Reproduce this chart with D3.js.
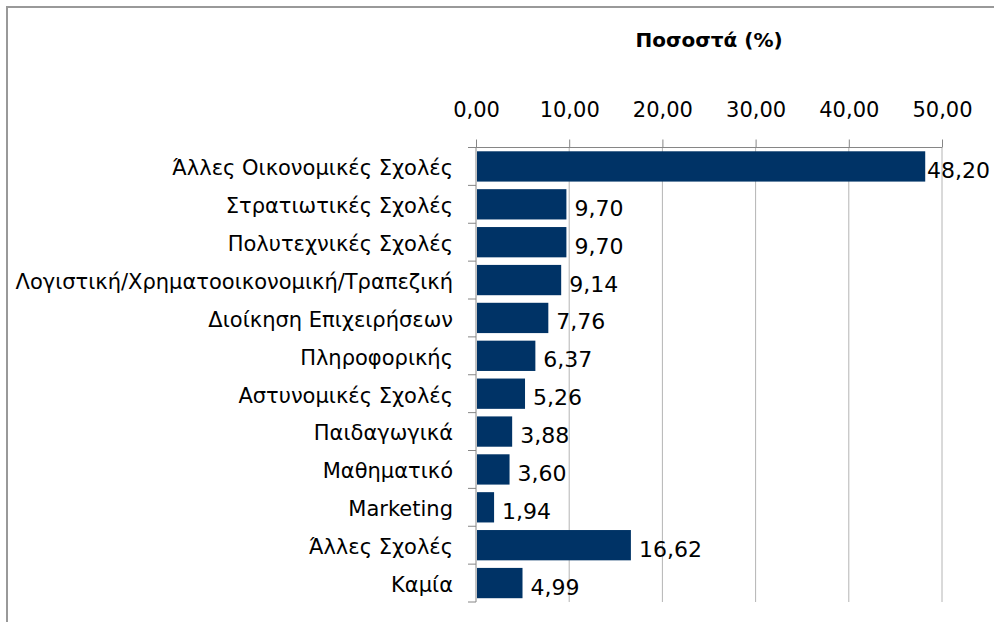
<!DOCTYPE html>
<html>
<head>
<meta charset="utf-8">
<script src="https://cdn.jsdelivr.net/npm/d3@7"></script>
<style>
  html, body { margin: 0; padding: 0; background: #fff; }
  svg { display: block; }
  text { font-family: "DejaVu Sans", sans-serif; fill: #000; }
</style>
</head>
<body>
<svg id="chart" width="994" height="622"></svg>
<script>
const categories = [
  "Άλλες Οικονομικές Σχολές",
  "Στρατιωτικές Σχολές",
  "Πολυτεχνικές Σχολές",
  "Λογιστική/Χρηματοοικονομική/Τραπεζική",
  "Διοίκηση Επιχειρήσεων",
  "Πληροφορικής",
  "Αστυνομικές Σχολές",
  "Παιδαγωγικά",
  "Μαθηματικό",
  "Marketing",
  "Άλλες Σχολές",
  "Καμία"
];
const values = [48.20, 9.70, 9.70, 9.14, 7.76, 6.37, 5.26, 3.88, 3.60, 1.94, 16.62, 4.99];
const tickValues = [0, 10, 20, 30, 40, 50];
const title = "Ποσοστά (%)";

(function () {
const svg = d3.select("#chart");
const W = 994, H = 622;
const pLeft = 476, pRight = 942, pTop = 147.5, pBottom = 602;
const fmt = v => d3.format(".2f")(v).replace(".", ",");

// frame
svg.append("rect").attr("x", 7).attr("y", 7).attr("width", 1000).attr("height", 640)
  .attr("fill", "none").attr("stroke", "#999").attr("stroke-width", 2);

const x = d3.scaleLinear().domain([0, 50]).range([pLeft, pRight]);
const y = d3.scaleBand().domain(categories).range([pTop, pBottom]).paddingInner(0.2).paddingOuter(0.1);

// gridlines
svg.append("g").selectAll("line").data(tickValues.slice(1)).join("line")
  .attr("x1", d => x(d)).attr("x2", d => x(d))
  .attr("y1", pTop).attr("y2", pBottom)
  .attr("stroke", "#b4b4b4").attr("stroke-width", 1);

// top axis
const xAxis = svg.append("g").attr("transform", `translate(0,${pTop})`)
  .call(d3.axisTop(x).tickValues(tickValues).tickFormat(fmt).tickSize(8).tickPadding(23));
xAxis.select(".domain").attr("stroke", "#868686").attr("d", `M${pLeft-8},0H${pRight}`);
xAxis.selectAll(".tick line").attr("stroke", "#868686");
xAxis.selectAll(".tick text").attr("font-size", 21).attr("font-family", "DejaVu Sans");

// left category axis
const yb = d3.range(categories.length + 1).map(i => pTop + i * (pBottom - pTop) / categories.length);
svg.append("line").attr("x1", pLeft).attr("x2", pLeft).attr("y1", pTop).attr("y2", pBottom)
  .attr("stroke", "#868686");
svg.append("g").selectAll("line").data(yb).join("line")
  .attr("x1", pLeft - 8).attr("x2", pLeft).attr("y1", d => d).attr("y2", d => d)
  .attr("stroke", "#868686");

// category labels
svg.append("g").selectAll("text").data(categories).join("text")
  .attr("x", pLeft - 23)
  .attr("y", d => y(d) + y.bandwidth() / 2)
  .attr("dy", "0.42em")
  .attr("text-anchor", "end")
  .attr("font-size", 21)
  .text(d => d);

// bars
svg.append("g").selectAll("rect").data(values).join("rect")
  .attr("x", x(0) + 1)
  .attr("y", (d, i) => y(categories[i]))
  .attr("width", d => x(d) - x(0) - 1)
  .attr("height", y.bandwidth())
  .attr("fill", "#003366");

// value labels
svg.append("g").selectAll("text").data(values).join("text")
  .attr("y", (d, i) => y(categories[i]) + y.bandwidth() / 2)
  .attr("dy", "0.52em")
  .attr("font-size", 22)
  .text(d => fmt(d))
  .attr("x", function(d) {
    const w = this.getComputedTextLength();
    return Math.min(x(d) + 8, W - 4 - w);
  });

// title
svg.append("text").attr("x", (pLeft + pRight) / 2).attr("y", 47)
  .attr("text-anchor", "middle").attr("font-size", 20).attr("font-weight", "bold")
  .text(title);
})();
</script>
</body>
</html>
